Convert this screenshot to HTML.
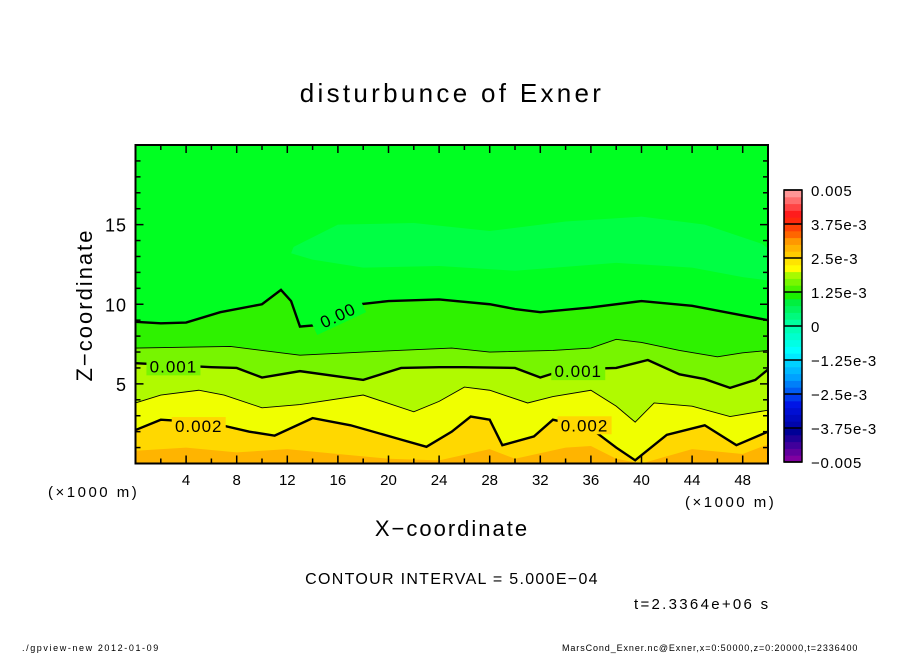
<!DOCTYPE html>
<html><head><meta charset="utf-8"><style>
body{margin:0;background:#fff;}
svg{display:block;font-family:"Liberation Sans","DejaVu Sans",sans-serif;}
</style></head><body>
<svg id="chart" width="904" height="654" viewBox="0 0 904 654">
<rect width="904" height="654" fill="#fff"/>
<g id="plot"></g>
<g id="axes"></g>
<g id="cbar"></g>
<text x="452" y="102" font-size="26" letter-spacing="3.3" text-anchor="middle">disturbunce of Exner</text>
<text transform="translate(92,305) rotate(-90)" font-size="22" letter-spacing="2" text-anchor="middle">Z−coordinate</text>
<text x="452" y="536" font-size="22" letter-spacing="2" text-anchor="middle">X−coordinate</text>
<text x="48" y="497" font-size="15" letter-spacing="2.5">(×1000 m)</text>
<text x="685" y="507" font-size="15" letter-spacing="2.5">(×1000 m)</text>
<text x="452" y="584" font-size="16" letter-spacing="1.3" text-anchor="middle">CONTOUR INTERVAL = 5.000E−04</text>
<text x="634" y="609" font-size="15" letter-spacing="2.3">t=2.3364e+06 s</text>
<text x="22" y="651" font-size="9" letter-spacing="1.6">./gpview-new  2012-01-09</text>
<text x="562" y="651" font-size="9" letter-spacing="0.9">MarsCond_Exner.nc@Exner,x=0:50000,z=0:20000,t=2336400</text>
</svg>
<script>
const NS="http://www.w3.org/2000/svg";
// contour level data (x in 1000 m, z in 1000 m)
const levelValues=[0,0.0005,0.001,0.0015,0.002,0.0025];
const lev0X=[0,2,4,6.7,10,11.5,12.3,13,14.5,17.7,20,24,28,30,32,36,40,44,48,50];
const lev0Z=[8.9,8.8,8.85,9.5,10.0,10.9,10.2,8.6,8.7,10.0,10.2,10.3,10.0,9.7,9.5,9.8,10.2,9.9,9.3,9.0];
const lev1X=[0,7.5,13,18,25,28,33,36,38,40,43,46,48,50];
const lev1Z=[7.25,7.35,6.8,7.0,7.25,7.0,7.1,7.25,7.8,7.6,7.1,6.7,6.95,7.1];
const lev2X=[0,6,8,10,13,18,21,24,26,30,32,34,38,40.5,43,45,47,49,50];
const lev2Z=[6.3,6.05,6.0,5.4,5.8,5.25,6.0,6.05,6.05,6.0,5.4,5.9,6.0,6.5,5.6,5.3,4.75,5.25,5.9];
const lev3X=[0,2,5,7,10,13,18,22,24,26,28,31,33,36,38,39.5,41,44,47,50];
const lev3Z=[3.8,4.3,4.6,4.3,3.5,3.7,4.3,3.25,3.9,4.8,4.6,3.8,4.2,4.6,3.6,2.6,3.8,3.6,2.95,3.35];
const lev4X=[0,2,6,9,11,14,17,21,23,25,26.5,28,29,31.5,33,36,38,39.5,42,45,47.5,50];
const lev4Z=[2.1,2.75,2.55,2.0,1.75,2.85,2.4,1.5,1.05,2.0,2.95,2.75,1.15,1.7,2.75,2.2,1.0,0.2,1.8,2.4,1.15,2.0];
const lev5X=[0,4,8,12,16,20,24,28,30,34,36,38,40,44,48,50];
const lev5Z=[0.8,1.0,0.7,0.9,0.6,0.3,0.2,0.9,0.3,1.0,1.1,0.3,0.0,0.9,0.6,1.2];
// negative (-2.5e-4) patch outline in upper region
const patchX=[12.5,16,22,28,34,40,45,48,49.5,50,50,48,44,38,30,24,18,14,12.3];
const patchZ=[13.6,15.0,15.1,14.6,15.2,15.5,15.0,14.2,13.8,13.5,11.5,11.7,12.3,12.6,12.1,12.4,12.3,12.8,13.2];
const xTicks=[4,8,12,16,20,24,28,32,36,40,44,48];
const zTicks=[5,10,15];
const cbarLabels=["0.005","3.75e-3","2.5e-3","1.25e-3","0","−1.25e-3","−2.5e-3","−3.75e-3","−0.005"];

const X0=135.5,X1=768,Y0=463.5,Y1=145;
const sx=v=>X0+(X1-X0)*v/50;
const sz=v=>Y0-(Y0-Y1)*v/20;
function el(t,a,p){const e=document.createElementNS(NS,t);for(const k in a)e.setAttribute(k,a[k]);p.appendChild(e);return e;}
const plotG=document.getElementById('plot');
const bandCol=["#00ff22","#2ef200","#77f500","#b0fa00","#f0ff00","#ffd800","#ffb400"];
function pathXZ(X,Z){let d="M"+sx(X[0])+","+sz(Z[0]);for(let j=1;j<X.length;j++)d+="L"+sx(X[j])+","+sz(Z[j]);return d;}
el('rect',{x:X0,y:Y1,width:X1-X0,height:Y0-Y1,fill:bandCol[0]},plotG);
const patch=el('path',{d:pathXZ(patchX,patchZ)+"Z",fill:"#00ff44"},plotG);


const levels=[[lev0X,lev0Z],[lev1X,lev1Z],[lev2X,lev2Z],[lev3X,lev3Z],[lev4X,lev4Z],[lev5X,lev5Z]];
levels.forEach((L,i)=>{
  const f=el('path',{d:pathXZ(L[0],L[1])+"L"+X1+","+Y0+"L"+X0+","+Y0+"Z",fill:bandCol[i+1]},plotG);
  
  
});
levels.forEach((L,i)=>{
  if(i===5)return;
  const p=el('path',{d:pathXZ(L[0],L[1]),fill:"none",stroke:"#000","stroke-width":(i%2===0)?2.4:0.9},plotG);
  
  
});
[["0.00",16,9.3,-25,"#00ff22"],["0.001",3,6.1,0,"#77f500"],["0.001",35,5.8,0,"#77f500"],["0.002",5,2.35,0,"#ffd800"],["0.002",35.5,2.4,0,"#ffd800"]].forEach(l=>{
  const x=sx(l[1]),y=sz(l[2]);
  el('rect',{x:x-27,y:y-9,width:54,height:18,fill:l[4],transform:"rotate("+l[3]+","+x+","+y+")"},plotG);
  const t=el('text',{x:x,y:y+6,"font-size":17,"letter-spacing":1,"text-anchor":"middle",transform:"rotate("+l[3]+","+x+","+y+")"},plotG);
  t.textContent=l[0];
  
  
});
const axes=document.getElementById('axes');
el('rect',{x:X0,y:Y1,width:X1-X0,height:Y0-Y1,fill:"none",stroke:"#000","stroke-width":2},axes);
for(let v=2;v<50;v+=2){
  const L=(v%4===0)?8:5;
  el('line',{x1:sx(v),x2:sx(v),y1:Y0,y2:Y0-L,stroke:"#000","stroke-width":1.5},axes);
  el('line',{x1:sx(v),x2:sx(v),y1:Y1,y2:Y1+L,stroke:"#000","stroke-width":1.5},axes);
}
for(let v=1;v<20;v++){
  const L=(v%5===0)?8:5;
  el('line',{x1:X0,x2:X0+L,y1:sz(v),y2:sz(v),stroke:"#000","stroke-width":1.5},axes);
  el('line',{x1:X1,x2:X1-L,y1:sz(v),y2:sz(v),stroke:"#000","stroke-width":1.5},axes);
}
xTicks.forEach(v=>{const t=el('text',{x:sx(v),y:485,"font-size":15,"text-anchor":"middle"},axes);t.textContent=v;
  
  });
zTicks.forEach(v=>{const t=el('text',{x:127,y:sz(v)+7,"font-size":18,"letter-spacing":1,"text-anchor":"end"},axes);t.textContent=v;
  
  });
const cb=document.getElementById('cbar');
const anchors=[[0,[128,0,160]],[5,[0,0,150]],[10,[0,20,230]],[15,[0,160,255]],[20,[0,255,255]],[25,[0,255,160]],[29,[0,240,60]],[30,[20,240,0]],[34,[170,250,0]],[35,[255,255,0]],[40,[255,160,0]],[42,[255,80,0]],[45,[255,20,20]],[49,[255,150,150]]];
function col(i){for(let k=0;k<anchors.length-1;k++){const a=anchors[k],b=anchors[k+1];if(i>=a[0]&&i<=b[0]){const t=(i-a[0])/(b[0]-a[0]||1);return "rgb("+a[1].map((c,j)=>Math.round(c+(b[1][j]-c)*t)).join(",")+")";}}return "rgb(255,150,150)";}
const CX=784,CW=18,CT=190,CB=462,step=(CB-CT)/40;
for(let i=0;i<40;i++){el('rect',{x:CX,y:CB-(i+1)*step,width:CW,height:step+0.5,fill:col(i*49/39)},cb);}
for(let k=0;k<=8;k++){el('line',{x1:CX,x2:CX+CW,y1:CT+k*34,y2:CT+k*34,stroke:"#000","stroke-width":1.5},cb);}
el('rect',{x:CX,y:CT,width:CW,height:CB-CT,fill:"none",stroke:"#000","stroke-width":1.5},cb);
cbarLabels.forEach((s,k)=>{const t=el('text',{x:811,y:CT+k*34+6,"font-size":15,"letter-spacing":0.8},cb);t.textContent=s;
  
  });
</script>
</body></html>
